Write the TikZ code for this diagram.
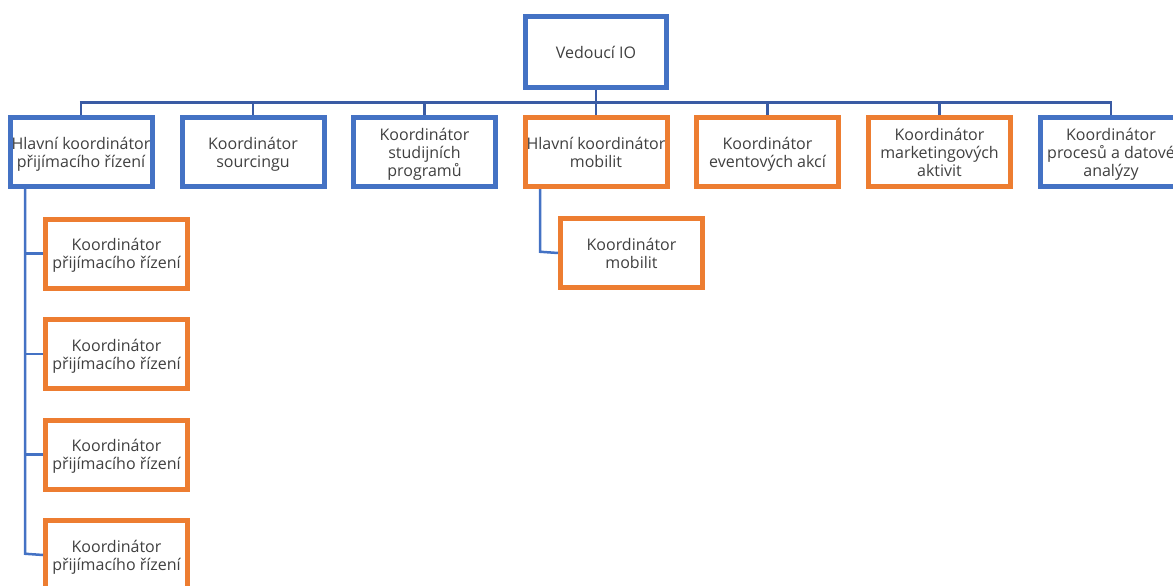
\documentclass[tikz,border=0pt]{standalone}
\usepackage{fontspec}
\setmainfont{Open Sans}
\definecolor{boxblue}{RGB}{68,114,196}
\definecolor{boxorange}{RGB}{237,125,49}
\definecolor{linkblue}{RGB}{58,91,164}
\definecolor{textgray}{RGB}{64,64,64}
\tikzset{
  unit/.style={draw, line width=5pt, fill=white, inner sep=0pt,
    minimum width=142pt, minimum height=69pt, align=center, text depth=-1pt,
    font=\fontsize{16}{18}\selectfont, text=textgray},
  bluebox/.style={unit, draw=boxblue},
  orangebox/.style={unit, draw=boxorange},
  link/.style={draw=linkblue, line width=2.5pt},
  sublink/.style={draw=boxblue, line width=2.5pt}
}
\begin{document}
\begin{tikzpicture}[x=1pt, y=-1pt]
\useasboundingbox (0,0) rectangle (1173,586);

% head
\node[bluebox, minimum width=141pt, minimum height=71pt] (head) at (596,52) {Vedoucí IO};

% first level
\node[bluebox]   (prij)  at (81,152)    {Hlavní koordinátor\\přijímacího řízení};
\node[bluebox]   (sour)  at (253,152)   {Koordinátor\\sourcingu};
\node[bluebox]   (stud)  at (424.5,152) {Koordinátor\\studijních\\programů};
\node[orangebox] (mob)   at (596,152)   {Hlavní koordinátor\\mobilit};
\node[orangebox] (event) at (767.5,152) {Koordinátor\\eventových akcí};
\node[orangebox] (mark)  at (939.5,152) {Koordinátor\\marketingových\\aktivit};
\node[bluebox]   (proc)  at (1111,152)  {Koordinátor\\procesů a datové\\analýzy};

% second level under admissions
\foreach \i/\y in {1/253.5, 2/354, 3/454.5, 4/555}
  \node[orangebox] (pk\i) at (116.5,\y) {Koordinátor\\přijímacího řízení};

% second level under mobility
\node[orangebox] (mk) at (631.5,253) {Koordinátor\\mobilit};

% connectors from the head
\coordinate (bar) at (596,102.5);
\draw[link] (head.south) -- (bar);
\draw[link] ([xshift=-1.25pt]prij.north |- bar) -- ([xshift=1.25pt]proc.north |- bar);
\foreach \n in {prij, sour, stud, mob, event, mark, proc}
  \draw[link] (\n.north |- bar) -- (\n.north);

% admissions branch
\coordinate (pspine) at (25,0);
\draw[sublink] (pspine |- prij.south) -- ([yshift=1.25pt]pspine |- pk4.west) -- (pk4.west);
\foreach \i in {1,2,3}
  \draw[sublink] (pspine |- pk\i.west) -- (pk\i.west);

% mobility branch
\coordinate (mspine) at (540,0);
\draw[sublink] (mspine |- mob.south) -- ([yshift=1.25pt]mspine |- mk.west) -- (mk.west);
\end{tikzpicture}
\end{document}
